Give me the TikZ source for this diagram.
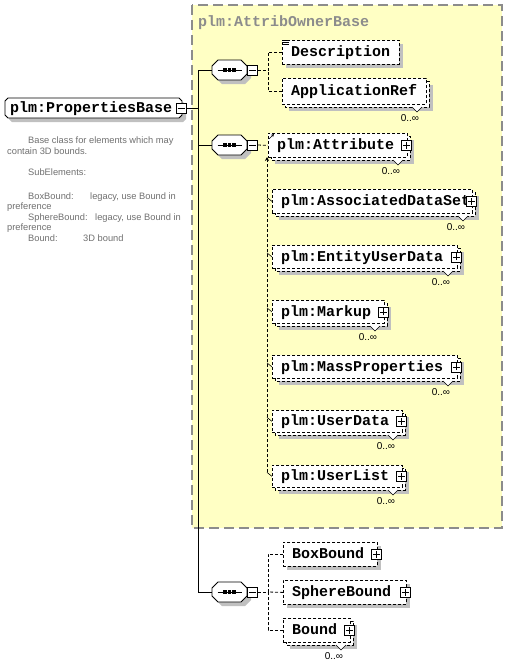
\documentclass[tikz,border=0pt]{standalone}
\usepackage{fontspec}
\setmainfont{Liberation Sans}
\newfontfamily\elfont{Liberation Mono}
\usetikzlibrary{arrows.meta}
\definecolor{yel}{HTML}{FFFFC4}
\definecolor{shd}{HTML}{C0C0C0}
\definecolor{doccol}{HTML}{707070}
\definecolor{grb}{HTML}{8C8C8C}
\tikzset{
  dsh/.style={dash pattern=on 3pt off 2pt, line width=0.8pt},
  elbox/.style={draw, dsh, fill=white, anchor=north west, inner sep=0pt},
  elname/.style={font=\elfont\bfseries\fontsize{15}{16}\selectfont, inner sep=0pt, anchor=west, text height=9pt, text depth=0pt},
  occ/.style={font=\fontsize{10}{11}\selectfont, inner sep=0pt},
  doctext/.style={font=\fontsize{9.3}{10}\selectfont, text=doccol, inner sep=0pt, anchor=base west},
  pmbox/.style={draw, fill=white, minimum size=10pt, inner sep=0pt, line width=0.6pt},
  plusbox/.style={pmbox, path picture={
      \draw[line width=0.6pt] ([xshift=-3.5pt]path picture bounding box.center) -- ([xshift=3.5pt]path picture bounding box.center);
      \draw[line width=0.6pt] ([yshift=-3.5pt]path picture bounding box.center) -- ([yshift=3.5pt]path picture bounding box.center);}},
  minusbox/.style={pmbox, path picture={
      \draw[line width=0.6pt] ([xshift=-3.5pt]path picture bounding box.center) -- ([xshift=3.5pt]path picture bounding box.center);}},
  anchorbox/.style={rectangle, inner sep=0pt},
}
% octagon: cx, cy, w, h, cut, style
\newcommand\octa[6]{\path[#6] ({#1-#3/2+#5},{#2-#4/2}) -- ({#1+#3/2-#5},{#2-#4/2}) -- ({#1+#3/2},{#2-#4/2+#5})
  -- ({#1+#3/2},{#2+#4/2-#5}) -- ({#1+#3/2-#5},{#2+#4/2}) -- ({#1-#3/2+#5},{#2+#4/2})
  -- ({#1-#3/2},{#2+#4/2-#5}) -- ({#1-#3/2},{#2-#4/2+#5}) -- cycle;}
\newcommand\xel[8]{%
  \ifnum#7=1
    \fill[shd] ({#2+7},{#3+7}) rectangle ({#4+4},{#5+4});
    \draw[dsh,fill=white] ({#2+3},{#3+3}) rectangle (#4,#5);
    \filldraw[fill=white,line width=0.6pt] ({#4-17},#5) -- ({#4-12},{#5+5}) -- ({#4-7},#5);
    \node[occ] (#1o) at ({#4-19},{#5+11.5}) {0..∞};
    \node[elbox, minimum width={#4-#2-3}, minimum height={#5-#3-3}] (#1) at (#2,#3) {};
  \else
    \fill[shd] ({#2+4},{#3+4}) rectangle ({#4+4},{#5+4});
    \node[elbox, minimum width={#4-#2}, minimum height={#5-#3}] (#1) at (#2,#3) {};
  \fi
  \node[elname] (#1t) at ([xshift=9pt]#1.west) {#6};
  \ifnum#8=1 \node[plusbox] (#1p) at ([xshift=-1.5pt]#1.east) {};\fi
}
\newcommand\xseq[3]{%
  \octa{#2+4}{#3+4}{35}{20}{6}{fill=shd}
  \octa{#2}{#3}{35}{20}{6}{draw, fill=white, line width=0.8pt}
  \node[anchorbox, minimum width=35pt, minimum height=20pt] (#1) at (#2,#3) {};
  \draw[line width=0.8pt] ([xshift=-12pt]#1.center) -- ([xshift=12pt]#1.center);
  \foreach \dx in {-4.5,0,4.5} {\fill ([xshift=\dx pt]#1.center) +(-1.6pt,-1.6pt) rectangle +(1.6pt,1.6pt);}
  \node[minusbox, anchor=west] (#1m) at (#1.east) {};
}
\begin{document}
\begin{tikzpicture}[x=1pt,y=-1pt]
\useasboundingbox (0,0) rectangle (507,665);
\fill[white] (0,0) rectangle (507,665);
% group box
\draw[grb, dash pattern=on 10pt off 5pt, line width=1.3pt, fill=yel] (192,5) rectangle (502,528);
\node[elname, text=grb] (grouptitle) at (198,21.5) {plm:AttribOwnerBase};

% root element
\octa{97.5}{112}{177}{20}{3}{fill=shd}
\octa{93.5}{108}{177}{20}{3}{draw, fill=white, line width=0.8pt}
\node[anchorbox, minimum width=177pt, minimum height=20pt] (root) at (93.5,108) {};
\node[elname] (roott) at (10,108) {plm:PropertiesBase};
\node[minusbox] (rootm) at (181,108.5) {};

% documentation
\node[doctext] (d1) at (28,143) {Base class for elements which may};
\node[doctext] (d2) at (7,154) {contain 3D bounds.};
\node[doctext] (d3) at (28,175) {SubElements:};
\node[doctext] (d4) at (28,199) {BoxBound:};
\node[doctext] (d4b) at (90,199) {legacy, use Bound in};
\node[doctext] (d5) at (7,209) {preference};
\node[doctext] (d6) at (28,220) {SphereBound:};
\node[doctext] (d6b) at (95,220) {legacy, use Bound in};
\node[doctext] (d7) at (7,230) {preference};
\node[doctext] (d8) at (28,241) {Bound:};
\node[doctext] (d8b) at (83,241) {3D bound};

% spine
\coordinate (spt) at (198,70);
\coordinate (spb) at (198,592);
\draw[line width=0.8pt] (spt) -- (spb);
\draw[line width=0.8pt] (rootm.east) -- (rootm.east -| spt);

% sequences
\xseq{tseq}{229.5}{70}
\xseq{mseq}{229.5}{145}
\xseq{bseq}{229.5}{592}
\draw[line width=0.8pt] (tseq.west -| spt) -- (tseq.west);
\draw[line width=0.8pt] (mseq.west -| spt) -- (mseq.west);
\draw[line width=0.8pt] (bseq.west -| spt) -- (bseq.west);

% top group
\xel{desc}{282}{40}{399}{64}{Description}{0}{0}
\foreach \yy in {40.5,42.5,44.5} {\draw[line width=0.6pt] (283,\yy) -- (289,\yy);}
\xel{appref}{282}{78}{429}{107}{ApplicationRef}{1}{0}
\coordinate (tj) at (268,70);
\draw[dsh] (tseqm.east) -- (tj);
\draw[dsh] (desc.west) -| (tj);
\draw[dsh] (appref.west) -| (tj);

% middle group
\coordinate (mtop) at (267,157);
\coordinate (mbot) at (267,472);
\draw[dsh, -{Stealth[length=4pt,width=4pt]}] (mbot) -- (mtop);
\xel{attr}{268}{133}{410}{160}{plm:Attribute}{1}{1}
\xel{ads}{272}{189}{475}{216}{plm:AssociatedDataSet}{1}{1}
\xel{eud}{272}{245}{460}{271}{plm:EntityUserData}{1}{1}
\xel{mk}{272}{300}{387}{326}{plm:Markup}{1}{1}
\xel{mp}{272}{355}{460}{381}{plm:MassProperties}{1}{1}
\xel{ud}{272}{410}{405}{435}{plm:UserData}{1}{1}
\xel{ul}{272}{465}{405}{490}{plm:UserList}{1}{1}
\draw[dsh] (mseqm.east) -- (attr.west);
\draw[line width=0.6pt, -{Stealth[length=3pt,width=3pt]}] ([shift={(1,6)}]attr.north west) -- ([shift={(6,1)}]attr.north west);
\foreach \n in {ads,eud,mk,mp,ud,ul} {\draw[line width=0.6pt] (\n.west) -- ++(-5,-4);}

% bottom group
\xel{bb}{283}{542}{377}{566}{BoxBound}{0}{1}
\xel{sb}{283}{580}{406}{604}{SphereBound}{0}{1}
\xel{bd}{283}{618}{353}{645}{Bound}{1}{1}
\coordinate (bj) at (268,592);
\draw[dsh] (bseqm.east) -- (bj);
\draw[dsh] (bb.west) -| (bj);
\draw[dsh] (sb.west) -- (bj);
\draw[dsh] (bd.west) -| (bj);
\end{tikzpicture}
\end{document}
